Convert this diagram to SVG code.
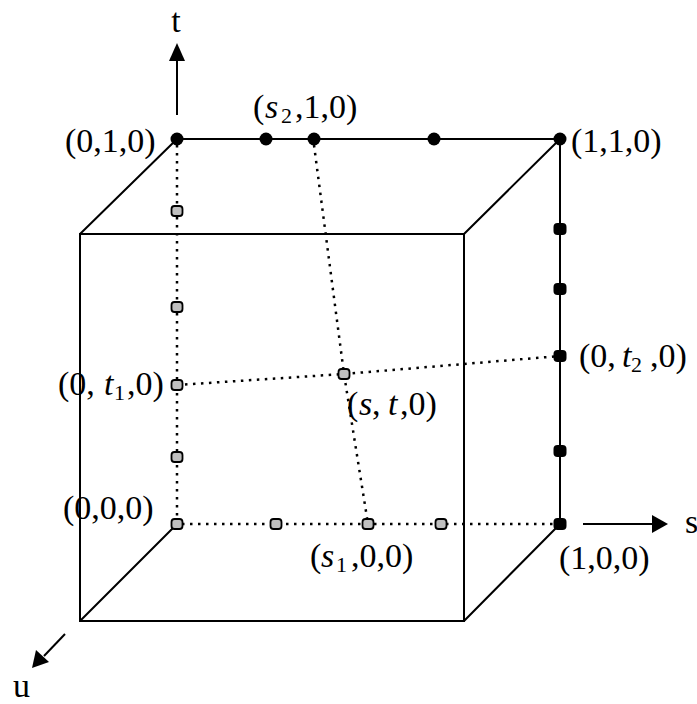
<svg xmlns="http://www.w3.org/2000/svg" width="697" height="704" viewBox="0 0 697 704">
<defs>
<style>
.e{stroke:#000;stroke-width:2;fill:none}
.d{stroke:#000;stroke-width:2.5;fill:none;stroke-dasharray:2.5 5.5}
.b{fill:#000}
.g{fill:#c0c0c0;stroke:#000;stroke-width:1.8}
text{font-family:"Liberation Serif","Times New Roman",serif;font-size:34px;fill:#000}
.i{font-style:italic}
.sb{font-size:22px}
</style>
</defs>
<rect width="697" height="704" fill="#fff"/>
<g id="connectors">
<rect class="e" x="80" y="234" width="384" height="387"/>
<path class="e" d="M177,139 H560 V524"/>
<path class="e" d="M177,139 L80,234 M560,139 L464,234 M177,524 L80,621 M560,524 L464,621"/>
<path class="d" d="M177,145 V524 H560"/>
<path class="d" d="M314,145 L344,374 L368,524"/>
<path class="d" d="M177,385 L344,374 L560,356"/>
<g id="axes">
<line x1="177" y1="115" x2="177" y2="61" stroke="#000" stroke-width="2"/>
<path d="M169,61 L185,61 L177,43 Z" fill="#000"/>
<line x1="583" y1="524" x2="652" y2="524" stroke="#000" stroke-width="2"/>
<path d="M652,515 L652,533 L668,524 Z" fill="#000"/>
<line x1="65" y1="634" x2="44" y2="656" stroke="#000" stroke-width="2"/>
<path d="M36,650 L49,662 L32,668 Z" fill="#000"/>
</g>
</g>
<g id="n010"><circle class="b" cx="177" cy="139" r="6.5"/><text x="65" y="152">(0,1,0)</text></g>
<g id="p_top1"><circle class="b" cx="266" cy="139" r="6.5"/></g>
<g id="n_s2"><circle class="b" cx="314" cy="139" r="6.5"/><text y="118"><tspan x="253">(</tspan><tspan class="i" x="265">s</tspan><tspan class="sb" x="281" y="123">2</tspan><tspan x="295" y="118">,1,0)</tspan></text></g>
<g id="p_top3"><circle class="b" cx="434" cy="139" r="6.5"/></g>
<g id="n110"><circle class="b" cx="560" cy="139" r="6.5"/><text x="571" y="152">(1,1,0)</text></g>
<g id="p_r1"><rect class="b" x="553.5" y="223" width="13" height="12" rx="4"/></g>
<g id="p_r2"><rect class="b" x="553.5" y="283" width="13" height="12" rx="4"/></g>
<g id="n_t2"><rect class="b" x="553.5" y="350" width="13" height="12" rx="4"/><text y="367"><tspan x="579">(0,</tspan><tspan class="i" x="622">t</tspan><tspan class="sb" x="631" y="372">2</tspan><tspan x="650" y="367">,0)</tspan></text></g>
<g id="p_r4"><rect class="b" x="553.5" y="445" width="13" height="12" rx="4"/></g>
<g id="n100"><rect class="b" x="553.5" y="518" width="13" height="12" rx="4"/><text x="559" y="569">(1,0,0)</text></g>
<g id="p_l1"><rect class="g" x="171.5" y="206" width="11" height="10" rx="3"/></g>
<g id="p_l2"><rect class="g" x="171.5" y="302" width="11" height="10" rx="3"/></g>
<g id="n_t1"><rect class="g" x="171.5" y="380" width="11" height="10" rx="3"/><text y="395"><tspan x="58">(0,</tspan><tspan class="i" x="104">t</tspan><tspan class="sb" x="114" y="400">1</tspan><tspan x="127" y="395">,0)</tspan></text></g>
<g id="p_l4"><rect class="g" x="171.5" y="452" width="11" height="10" rx="3"/></g>
<g id="n000"><rect class="g" x="171.5" y="519" width="11" height="10" rx="3"/><text x="63" y="519">(0,0,0)</text></g>
<g id="p_b1"><rect class="g" x="270.5" y="519" width="11" height="10" rx="3"/></g>
<g id="n_s1"><rect class="g" x="362.5" y="519" width="11" height="10" rx="3"/><text y="567"><tspan x="310">(</tspan><tspan class="i" x="321">s</tspan><tspan class="sb" x="336" y="572">1</tspan><tspan x="351" y="567">,0,0)</tspan></text></g>
<g id="p_b3"><rect class="g" x="435.5" y="519" width="11" height="10" rx="3"/></g>
<g id="n_st"><rect class="g" x="338.5" y="369" width="11" height="10" rx="3"/><text y="415"><tspan x="347">(</tspan><tspan class="i" x="359">s</tspan><tspan x="372">,</tspan><tspan class="i" x="388">t</tspan><tspan x="400">,0)</tspan></text></g>
<g id="lbl_t"><text x="176" y="32" text-anchor="middle">t</text></g>
<g id="lbl_s"><text x="685" y="533">s</text></g>
<g id="lbl_u"><text x="13" y="697">u</text></g>
</svg>
